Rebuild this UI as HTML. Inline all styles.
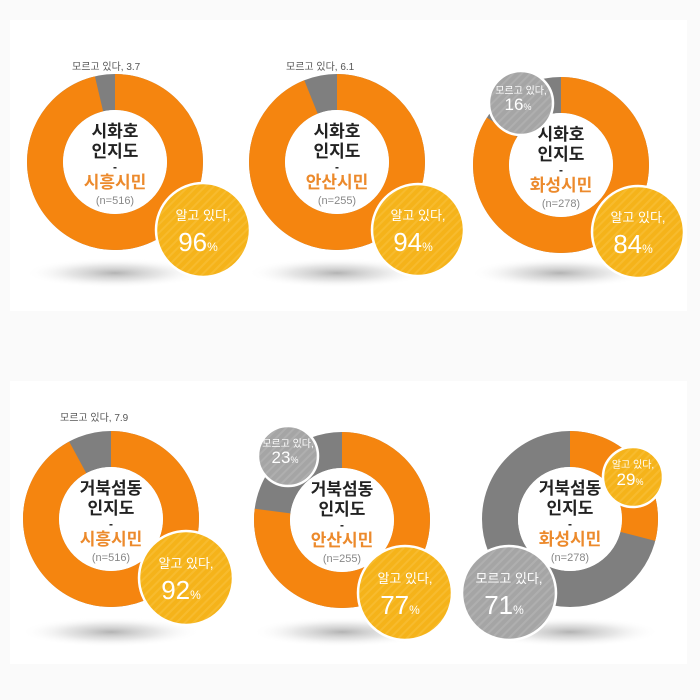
<!DOCTYPE html>
<html><head><meta charset="utf-8"><style>
html,body{margin:0;padding:0;background:#fafafa;}
svg{display:block;}
text{font-family:"Liberation Sans","Noto Sans CJK KR",sans-serif;}
</style></head><body>
<svg width="700" height="700" viewBox="0 0 700 700" xmlns="http://www.w3.org/2000/svg">
<defs>
<radialGradient id="sh" cx="50%" cy="50%" r="50%">
<stop offset="0" stop-color="#a0a0a0" stop-opacity="0.8"/>
<stop offset="0.5" stop-color="#cccccc" stop-opacity="0.5"/>
<stop offset="1" stop-color="#ffffff" stop-opacity="0"/>
</radialGradient>
<pattern id="py" width="6" height="6" patternUnits="userSpaceOnUse" patternTransform="rotate(45)">
<rect width="6" height="6" fill="#f5b31a"/><rect width="2" height="6" fill="#f7bb2e"/></pattern>
<pattern id="pg" width="6" height="6" patternUnits="userSpaceOnUse" patternTransform="rotate(45)">
<rect width="6" height="6" fill="#a5a5a5"/><rect width="2" height="6" fill="#afafaf"/></pattern>
</defs>
<rect x="10" y="20" width="677" height="291" fill="#fff"/>
<rect x="10" y="381" width="677" height="283" fill="#fff"/>

<ellipse cx="115" cy="273" rx="90" ry="15" fill="url(#sh)"/>
<ellipse cx="337" cy="273" rx="90" ry="15" fill="url(#sh)"/>
<ellipse cx="560" cy="273" rx="90" ry="15" fill="url(#sh)"/>
<ellipse cx="111" cy="632" rx="90" ry="15" fill="url(#sh)"/>
<ellipse cx="342" cy="632" rx="90" ry="15" fill="url(#sh)"/>
<ellipse cx="570" cy="632" rx="90" ry="15" fill="url(#sh)"/>

<g font-size="10" fill="#555">
<text x="72" y="70">모르고 있다, 3.7</text>
<text x="286" y="70">모르고 있다, 6.1</text>
<text x="60" y="421">모르고 있다, 7.9</text>
</g>

<g fill="none" stroke-width="36">
<g transform="translate(115,162) rotate(-90)"><circle r="70" stroke="#7f7f7f"/><circle r="70" stroke="#f5850f" stroke-dasharray="423.5 440"/></g>
<g transform="translate(337,162) rotate(-90)"><circle r="70" stroke="#7f7f7f"/><circle r="70" stroke="#f5850f" stroke-dasharray="413 440"/></g>
<g transform="translate(561,165) rotate(-90)"><circle r="70" stroke="#7f7f7f"/><circle r="70" stroke="#f5850f" stroke-dasharray="369.5 440"/></g>
<g transform="translate(111,519) rotate(-90)"><circle r="70" stroke="#7f7f7f"/><circle r="70" stroke="#f5850f" stroke-dasharray="405 440"/></g>
<g transform="translate(342,520) rotate(-90)"><circle r="70" stroke="#7f7f7f"/><circle r="70" stroke="#f5850f" stroke-dasharray="338.7 440"/></g>
<g transform="translate(570,519) rotate(-90)"><circle r="70" stroke="#7f7f7f"/><circle r="70" stroke="#f5850f" stroke-dasharray="127.5 440"/></g>
</g>
<g fill="#fff">
<circle cx="115" cy="162" r="52"/><circle cx="337" cy="162" r="52"/><circle cx="561" cy="165" r="52"/>
<circle cx="111" cy="519" r="52"/><circle cx="342" cy="520" r="52"/><circle cx="570" cy="519" r="52"/>
</g>

<g text-anchor="middle" font-weight="bold" font-size="17">
<g fill="#222">
<text x="115" y="137">시화호</text><text x="115" y="157">인지도</text><text x="115" y="171" font-size="12">-</text>
<text x="337" y="137">시화호</text><text x="337" y="157">인지도</text><text x="337" y="171" font-size="12">-</text>
<text x="561" y="140">시화호</text><text x="561" y="160">인지도</text><text x="561" y="174" font-size="12">-</text>
<text x="111" y="494">거북섬동</text><text x="111" y="514">인지도</text><text x="111" y="528" font-size="12">-</text>
<text x="342" y="495">거북섬동</text><text x="342" y="515">인지도</text><text x="342" y="529" font-size="12">-</text>
<text x="570" y="494">거북섬동</text><text x="570" y="514">인지도</text><text x="570" y="528" font-size="12">-</text>
</g>
<g fill="#ec8a2c">
<text x="115" y="188">시흥시민</text><text x="337" y="188">안산시민</text><text x="561" y="191">화성시민</text>
<text x="111" y="545">시흥시민</text><text x="342" y="546">안산시민</text><text x="570" y="545">화성시민</text>
</g>
</g>
<g text-anchor="middle" font-size="11" fill="#888">
<text x="115" y="204">(n=516)</text><text x="337" y="204">(n=255)</text><text x="561" y="207">(n=278)</text>
<text x="111" y="561">(n=516)</text><text x="342" y="562">(n=255)</text><text x="570" y="561">(n=278)</text>
</g>

<g stroke="#fff" stroke-width="2.5">
<circle cx="203" cy="230" r="47" fill="url(#py)"/>
<circle cx="418" cy="230" r="46" fill="url(#py)"/>
<circle cx="638" cy="232" r="46" fill="url(#py)"/>
<circle cx="521" cy="103" r="32" fill="url(#pg)"/>
<circle cx="186" cy="578" r="47" fill="url(#py)"/>
<circle cx="405" cy="593" r="47" fill="url(#py)"/>
<circle cx="288" cy="456" r="30" fill="url(#pg)"/>
<circle cx="633" cy="477" r="30" fill="url(#py)"/>
<circle cx="509" cy="593" r="47" fill="url(#pg)"/>
</g>
<g fill="#fff" text-anchor="middle">
<g font-size="13">
<text x="203" y="220">알고 있다,</text><text x="418" y="220">알고 있다,</text><text x="638" y="222">알고 있다,</text>
<text x="186" y="568">알고 있다,</text><text x="405" y="583">알고 있다,</text><text x="509" y="583">모르고 있다,</text>
</g>
<g font-size="10"><text x="521" y="94">모르고 있다,</text><text x="288" y="447">모르고 있다,</text><text x="633" y="468">알고 있다,</text></g>
<g font-size="26">
<text x="198" y="251">96<tspan font-size="12">%</tspan></text>
<text x="413" y="251">94<tspan font-size="12">%</tspan></text>
<text x="633" y="253">84<tspan font-size="12">%</tspan></text>
<text x="181" y="599">92<tspan font-size="12">%</tspan></text>
<text x="400" y="614">77<tspan font-size="12">%</tspan></text>
<text x="504" y="614">71<tspan font-size="12">%</tspan></text>
</g>
<g font-size="17">
<text x="518" y="110">16<tspan font-size="9">%</tspan></text>
<text x="285" y="463">23<tspan font-size="9">%</tspan></text>
<text x="630" y="485">29<tspan font-size="9">%</tspan></text>
</g>
</g>
</svg>
</body></html>
